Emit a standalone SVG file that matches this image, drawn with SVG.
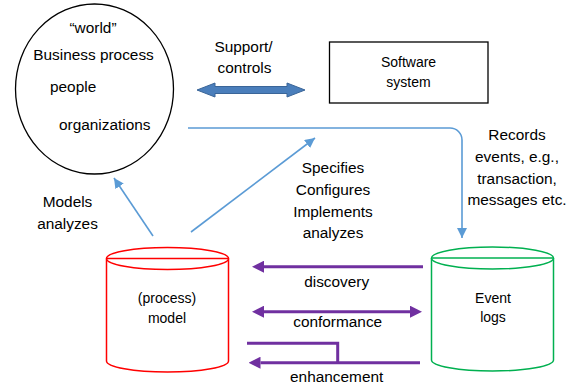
<svg xmlns="http://www.w3.org/2000/svg" width="574" height="385" viewBox="0 0 574 385">
<style>
text{font-family:"Liberation Sans",Arial,sans-serif;font-size:15.4px;fill:#000}
.c{text-anchor:middle}
.s{font-size:14px}
.blue{stroke:#5B9BD5;stroke-width:1.6;fill:none}
.pur{stroke:#7030A0;stroke-width:3;fill:none}
</style>
<defs>
<marker id="ab" viewBox="0 0 10 10" refX="10" refY="5" markerWidth="10" markerHeight="10" markerUnits="userSpaceOnUse" orient="auto"><path d="M0,0 L10,5 L0,10 z" fill="#5B9BD5"/></marker>
<marker id="ap" viewBox="0 0 12 12" refX="0" refY="6" markerWidth="12" markerHeight="12" markerUnits="userSpaceOnUse" orient="auto-start-reverse"><path d="M0,0 L12,6 L0,12 z" fill="#7030A0"/></marker>
</defs>
<rect width="574" height="385" fill="#fff"/>

<g id="world">
<ellipse cx="94.5" cy="89" rx="79" ry="85" fill="#fff" stroke="#000" stroke-width="1.3"/>
<text class="c" x="93" y="33">“world”</text>
<text class="c" x="93.5" y="60">Business process</text>
<text x="50" y="92">people</text>
<text x="59" y="130">organizations</text>
</g>

<g id="software">
<rect x="329.5" y="42" width="158.5" height="61" fill="#fff" stroke="#000" stroke-width="1.3"/>
<text class="c s" x="408.5" y="67">Software</text>
<text class="c s" x="408.5" y="87">system</text>
</g>

<g id="model">
<path d="M106.5,258.5 V361 A61,11 0 0 0 228.5,361 V258.5" fill="#fff" stroke="#FF0000" stroke-width="1.5"/>
<ellipse cx="167.5" cy="258.5" rx="61" ry="11" fill="#fff" stroke="#FF0000" stroke-width="1.5"/>
<line x1="106.5" y1="258.5" x2="228.5" y2="258.5" stroke="#FF0000" stroke-width="1.5"/>
<text class="c s" x="167" y="303">(process)</text>
<text class="c s" x="167" y="323">model</text>
</g>

<g id="eventlogs">
<path d="M431.5,258 V360 A61,11 0 0 0 553.5,360 V258" fill="#fff" stroke="#00B050" stroke-width="1.5"/>
<ellipse cx="492.5" cy="258" rx="61" ry="11" fill="#fff" stroke="#00B050" stroke-width="1.5"/>
<line x1="431.5" y1="258" x2="553.5" y2="258" stroke="#00B050" stroke-width="1.5"/>
<text class="c s" x="493" y="303">Event</text>
<text class="c s" x="493" y="322">logs</text>
</g>

<g id="connectors">
<path d="M197,90 L215,83 L215,86.5 L287,86.5 L287,83 L305,90 L287,97 L287,93.5 L215,93.5 L215,97 Z" fill="#4A7EBB" stroke="#3A6598" stroke-width="1"/>
<path class="blue" d="M188,128 H450 A12,12 0 0 1 462,140 V238" marker-end="url(#ab)"/>
<line class="blue" x1="153" y1="236" x2="114" y2="178" marker-end="url(#ab)"/>
<line class="blue" x1="191" y1="232" x2="315" y2="138" marker-end="url(#ab)"/>
<line class="pur" x1="423" y1="266.7" x2="264" y2="266.7" marker-end="url(#ap)"/>
<line class="pur" x1="264" y1="311.7" x2="410" y2="311.7" marker-start="url(#ap)" marker-end="url(#ap)"/>
<polyline class="pur" points="247,343.3 337.7,343.3 337.7,362.7"/>
<line class="pur" x1="420" y1="362.7" x2="260.5" y2="362.7" marker-end="url(#ap)"/>
</g>

<g id="labels">
<text class="c" x="243.5" y="52">Support/</text>
<text class="c" x="244.5" y="73">controls</text>
<text class="c" x="517" y="140">Records</text>
<text class="c" x="517" y="162">events, e.g.,</text>
<text class="c" x="517" y="183.5">transaction,</text>
<text class="c" x="517" y="205">messages etc.</text>
<text class="c" x="333" y="173">Specifies</text>
<text class="c" x="333" y="195">Configures</text>
<text class="c" x="333" y="216.5">Implements</text>
<text class="c" x="333" y="237.5">analyzes</text>
<text class="c" x="67.5" y="207">Models</text>
<text class="c" x="67.5" y="229">analyzes</text>
<text class="c" x="336.7" y="287">discovery</text>
<text class="c" x="337.7" y="327">conformance</text>
<text class="c" x="336.7" y="382">enhancement</text>
</g>
</svg>
